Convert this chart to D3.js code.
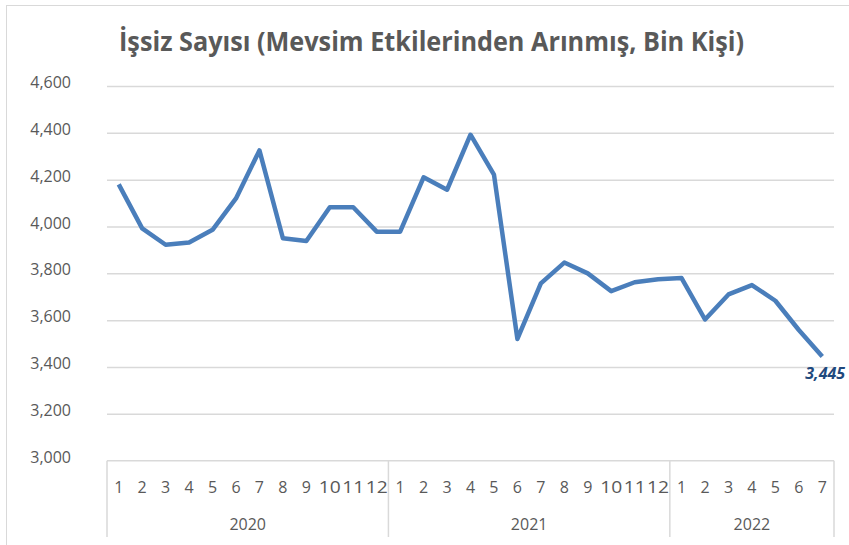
<!DOCTYPE html>
<html>
<head>
<meta charset="utf-8">
<script src="https://cdn.jsdelivr.net/npm/d3@7"></script>
<style>
  body { margin: 0; background: #fff; }
  svg text { font-family: "Open Sans", "Noto Sans", sans-serif; }
</style>
</head>
<body>
<div id="graph"></div>
<script>
// data
const years = ['2020', '2021', '2022'];
const monthsPerYear = [12, 12, 7];
const values2020 = [4180, 3992, 3922, 3932, 3986, 4120, 4325, 3950, 3938, 4082, 4082, 3978];
const values2021 = [3978, 4210, 4157, 4392, 4222, 3520, 3757, 3846, 3800, 3724, 3762, 3775];
const values2022 = [3780, 3603, 3710, 3750, 3683, 3558, 3445];
const yTicks = [3000, 3200, 3400, 3600, 3800, 4000, 4200, 4400, 4600];
const titleText = 'İşsiz Sayısı (Mevsim Etkilerinden Arınmış, Bin Kişi)';

const w = 849;
const h = 545;
const plotLeft = 107;
const plotRight = 834;
const plotTop = 86;
const plotBottom = 460.7;

// flatten into points
var points = [];
var seriesByYear = [values2020, values2021, values2022];
years.forEach((yr, yi) => {
  for (var m = 0; m < monthsPerYear[yi]; m++) {
    points.push({key: yr + '-' + (m + 1), month: m + 1, year: yr, value: seriesByYear[yi][m]});
  }
});

const svg = d3.select('#graph').append('svg')
  .attr('width', w)
  .attr('height', h);

// chart frame
svg.append('rect')
  .attr('x', 6.5).attr('y', 5.5)
  .attr('width', 860).attr('height', 560)
  .attr('fill', 'none')
  .attr('stroke', '#d9d9d9')
  .attr('stroke-width', 1);

const xScale = d3.scaleBand()
  .domain(points.map(d => d.key))
  .range([plotLeft, plotRight]);

const yScale = d3.scaleLinear()
  .domain([3000, 4600])
  .range([plotBottom, plotTop]);

// title
svg.append('text')
  .attr('x', 119)
  .attr('y', 51)
  .attr('textLength', 625)
  .attr('lengthAdjust', 'spacingAndGlyphs')
  .attr('font-size', 26)
  .attr('font-weight', 'bold')
  .attr('fill', '#595959')
  .text(titleText);

// gridlines + y labels
const yAxis = d3.axisLeft(yScale)
  .tickValues(yTicks)
  .tickSize(-(plotRight - plotLeft))
  .tickPadding(36)
  .tickFormat(d3.format(','));

const yg = svg.append('g')
  .attr('transform', 'translate(' + plotLeft + ',0)')
  .call(yAxis);
yg.select('.domain').remove();
yg.selectAll('.tick line')
  .attr('stroke', '#d9d9d9')
  .attr('stroke-width', 1.5)
  .filter(d => d === 3000).remove();
yg.selectAll('.tick text')
  .attr('font-size', 16)
  .attr('fill', '#595959')
  .attr('dy', '0.1em');

// category axis: months then years
const axisG = svg.append('g');
axisG.append('line')
  .attr('x1', plotLeft).attr('x2', plotRight)
  .attr('y1', plotBottom).attr('y2', plotBottom)
  .attr('stroke', '#d9d9d9').attr('stroke-width', 1.5);

axisG.selectAll('.month')
  .data(points)
  .enter()
  .append('text')
  .attr('class', 'month')
  .attr('x', d => xScale(d.key) + xScale.bandwidth() / 2)
  .attr('y', 493)
  .attr('text-anchor', 'middle')
  .attr('font-size', 16)
  .attr('fill', '#595959')
  .attr('textLength', d => d.month >= 10 ? 22 : null)
  .attr('lengthAdjust', 'spacingAndGlyphs')
  .text(d => d.month);

// year groups
var groups = [];
var idx = 0;
years.forEach((yr, yi) => {
  groups.push({year: yr, first: points[idx].key, last: points[idx + monthsPerYear[yi] - 1].key});
  idx += monthsPerYear[yi];
});

const sepX = [plotLeft].concat(groups.map(g => xScale(g.last) + xScale.bandwidth()));
axisG.selectAll('.sep')
  .data(sepX)
  .enter()
  .append('line')
  .attr('x1', d => d).attr('x2', d => d)
  .attr('y1', plotBottom).attr('y2', 537)
  .attr('stroke', '#d9d9d9').attr('stroke-width', 1.5);

axisG.selectAll('.year')
  .data(groups)
  .enter()
  .append('text')
  .attr('x', g => (xScale(g.first) + xScale(g.last) + xScale.bandwidth()) / 2)
  .attr('y', 530)
  .attr('text-anchor', 'middle')
  .attr('font-size', 16)
  .attr('fill', '#595959')
  .text(g => g.year);

// the series line
const line = d3.line()
  .x(d => xScale(d.key) + xScale.bandwidth() / 2)
  .y(d => yScale(d.value));

svg.append('path')
  .datum(points)
  .attr('d', line)
  .attr('fill', 'none')
  .attr('stroke', '#4a7ebb')
  .attr('stroke-width', 4.5)
  .attr('stroke-linejoin', 'round');

// last value label
const lastPt = points[points.length - 1];
svg.append('text')
  .attr('x', xScale(lastPt.key) + xScale.bandwidth() / 2 - 17)
  .attr('y', yScale(lastPt.value) + 23)
  .attr('font-size', 16)
  .attr('font-weight', 'bold')
  .attr('font-style', 'italic')
  .attr('fill', '#1f497d')
  .text(d3.format(',')(lastPt.value));
</script>
</body>
</html>
